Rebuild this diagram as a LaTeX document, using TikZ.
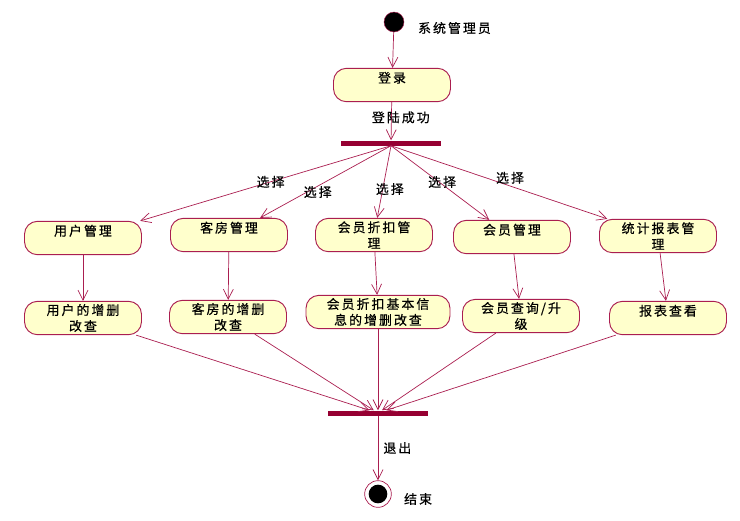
\documentclass[tikz,border=0pt]{standalone}
\usepackage{fontspec}
\setmainfont{Noto Sans CJK SC}[LetterSpace=16, FakeBold=0.6]
\usetikzlibrary{arrows.meta,positioning}
\definecolor{actline}{RGB}{170,30,80}
\definecolor{actbar}{RGB}{150,0,50}
\definecolor{actfill}{RGB}{255,255,204}
\tikzset{>={Straight Barb[length=8.5pt,width=8.5pt]}}
\tikzset{
  every node/.style={font=\fontsize{11}{13.6}\selectfont},
  act/.style={draw=actline, fill=actfill, line width=0.8pt, rounded corners=11pt, minimum width=3.51cm, minimum height=1cm, align=center, inner ysep=2pt},
  act one/.style={act, text height=0.9em, text depth=13pt},
  bar/.style={fill=actbar, minimum width=3cm, minimum height=0.15cm, inner sep=0pt},
  flow/.style={->, draw=actline, line width=0.6pt}
}
\begin{document}
\begin{tikzpicture}[x=0.03cm, y=-0.03cm]
    \useasboundingbox (0,0) rectangle (740,520);
    \node [circle, fill=black, draw=actline, minimum size=0.6cm, inner sep=0pt](start) at (394,22){};
    \node [anchor=west](startlabel) at (414,28){系统管理员};
    \node [act one](login) at (392,85){登录};
    \node [bar](fork) at (391,143){};
    \node [act one](user) at (83,238){用户管理};
    \node [act one](room) at (229,235){客房管理};
    \node [act](disc) at (374,235){会员折扣管\\理};
    \node [act one](member) at (512,237){会员管理};
    \node [act](report) at (658,236){统计报表管\\理};
    \node [act](usercrud) at (83,318){用户的增删\\改查};
    \node [act](roomcrud) at (228,317){客房的增删\\改查};
    \node [act, minimum width=4.32cm](disccrud) at (378,312){会员折扣基本信\\息的增删改查};
    \node [act](memberq) at (521,316){会员查询/升\\级};
    \node [act one](reportv) at (668,318){报表查看};
    \node [bar](join) at (378,413){};
    \node [circle, fill=white, draw=actline, line width=0.6pt, minimum size=0.8cm, inner sep=0pt](end) at (378,494){};
    \fill (end.center) circle (0.28cm);
    \node [anchor=west](endlabel) at (400,499){结束};
    \draw [flow] (start) -- (login);
    \draw [flow] (login) -- (fork) node[pos=0.4, xshift=8pt]{登陆成功};
    \draw [flow] (fork.south) -- (user) node[pos=0.48]{选择};
    \draw [flow] (fork.south) -- (room) node[pos=0.56, yshift=-5pt]{选择};
    \draw [flow] (fork.south) -- (disc) node[pos=0.6, xshift=6pt]{选择};
    \draw [flow] (fork.south) -- (member) node[pos=0.52, yshift=2pt]{选择};
    \draw [flow] (fork.south) -- (report) node[pos=0.55, yshift=7pt]{选择};
    \draw [flow] (user) -- (usercrud);
    \draw [flow] (room) -- (roomcrud);
    \draw [flow] (disc) -- (disccrud);
    \draw [flow] (member) -- (memberq);
    \draw [flow] (report) -- (reportv);
    \draw [flow] (usercrud) -- (join);
    \draw [flow] (roomcrud) -- (join);
    \draw [flow] (disccrud) -- (join);
    \draw [flow] (memberq) -- (join);
    \draw [flow] (reportv) -- (join);
    \draw [flow] (join) -- (end) node[midway, anchor=west, xshift=1pt]{退出};
\end{tikzpicture}
\end{document}
